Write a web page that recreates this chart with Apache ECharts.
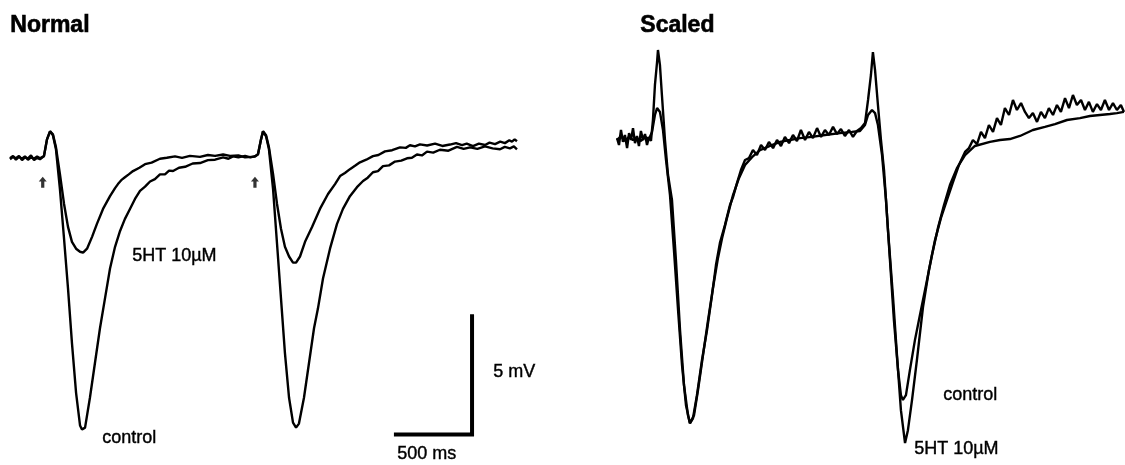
<!DOCTYPE html>
<html>
<head>
<meta charset="utf-8">
<style>
  html, body { margin: 0; padding: 0; background: #fff; }
  #chart { width: 1125px; height: 465px; }
</style>
<script src="https://cdn.jsdelivr.net/npm/echarts@6/dist/echarts.min.js"></script>
</head>
<body>
<div id="chart"></div>
<script>
// traces: [time ms, potential mV]
// Normal panel, control
const ctrlNormal = [
  [0,-0.08],[20,0.02],[39,-0.04],[59,0.06],[79,-0.12],[98,0.00],[118,-0.04],[138,0.08],[158,-0.12],[178,-0.02],
  [197,-0.08],[223,0.05],[243,0.76],[263,1.10],[282,0.93],[302,0.34],[328,-1.34],[355,-3.44],[381,-5.54],[407,-7.85],
  [434,-9.95],[460,-11.33],[473,-11.50],[493,-11.42],[525,-10.16],[558,-8.69],[591,-7.22],[624,-5.96],[657,-4.70],
  [690,-3.78],[723,-3.11],[755,-2.60],[788,-2.18],[821,-1.76],[854,-1.42],[887,-1.24],[920,-1.02],[952,-0.92],
  [985,-0.72],[1018,-0.72],[1045,-0.56],[1071,-0.58],[1110,-0.44],[1150,-0.40],[1200,-0.26],[1248,-0.24],
  [1300,-0.12],[1347,-0.10],[1400,0.00],[1435,-0.06],[1465,0.04],[1500,0.00],[1544,0.06],[1580,0.00],[1609,0.05],
  [1629,0.13],[1649,0.76],[1662,1.10],[1682,0.89],[1701,0.34],[1728,-1.34],[1754,-3.65],[1780,-5.96],[1806,-8.27],
  [1833,-10.16],[1859,-11.21],[1879,-11.42],[1898,-11.25],[1931,-10.16],[1964,-8.69],[1997,-7.22],[2023,-6.38],
  [2056,-5.12],[2102,-3.86],[2148,-2.81],[2187,-2.18],[2233,-1.64],[2279,-1.26],[2319,-1.00],[2350,-0.86],
  [2384,-0.63],[2417,-0.58],[2450,-0.37],[2490,-0.34],[2529,-0.18],[2570,-0.14],[2608,-0.04],[2640,-0.02],
  [2673,0.12],[2706,0.08],[2739,0.24],[2780,0.20],[2824,0.32],[2880,0.28],[2936,0.44],[2980,0.36],[3022,0.42],
  [3070,0.36],[3120,0.46],[3170,0.38],[3219,0.34],[3250,0.44],[3284,0.38],[3310,0.46],[3330,0.34]
];
// Normal panel, 5HT 10µM
const shtNormal = [
  [0,-0.04],[20,0.06],[39,-0.10],[59,0.02],[79,-0.06],[98,0.04],[118,-0.10],[138,0.00],[158,-0.06],[178,0.04],
  [197,-0.04],[223,0.05],[243,0.76],[263,1.10],[282,0.97],[302,0.42],[328,-0.71],[355,-1.97],[381,-2.94],[407,-3.57],
  [434,-3.86],[460,-3.99],[480,-4.03],[506,-3.86],[539,-3.36],[571,-2.81],[611,-2.18],[657,-1.64],[690,-1.30],
  [709,-1.13],[735,-0.94],[755,-0.84],[780,-0.72],[808,-0.58],[850,-0.44],[887,-0.29],[930,-0.22],[985,-0.06],
  [1030,-0.02],[1084,0.04],[1130,-0.02],[1182,0.06],[1248,0.02],[1300,0.10],[1347,0.06],[1400,0.12],[1445,0.06],
  [1500,0.08],[1544,0.00],[1609,0.03],[1629,0.13],[1649,0.76],[1662,1.10],[1682,0.93],[1701,0.42],[1728,-0.71],
  [1754,-1.97],[1780,-3.02],[1806,-3.78],[1833,-4.19],[1859,-4.45],[1879,-4.45],[1905,-4.19],[1938,-3.57],
  [1984,-2.94],[2036,-2.18],[2089,-1.55],[2135,-1.13],[2168,-0.79],[2200,-0.66],[2233,-0.50],[2266,-0.36],
  [2299,-0.21],[2340,-0.10],[2384,0.05],[2420,0.10],[2463,0.25],[2510,0.30],[2562,0.42],[2600,0.40],[2627,0.51],
  [2660,0.46],[2693,0.55],[2740,0.50],[2792,0.58],[2840,0.48],[2890,0.54],[2930,0.60],[2969,0.52],[3000,0.58],
  [3041,0.47],[3080,0.58],[3120,0.52],[3150,0.62],[3186,0.56],[3220,0.66],[3251,0.60],[3280,0.72],[3297,0.66],
  [3315,0.76],[3330,0.68]
];
// Scaled panel, 5HT 10µM scaled to control
const shtScaled = [
  [33,0.00],[46,-0.29],[59,0.34],[72,-0.16],[85,0.13],[99,-0.42],[112,0.21],[125,-0.08],[138,0.42],[151,-0.21],
  [164,0.09],[177,-0.33],[190,0.30],[204,-0.08],[217,0.17],[230,-0.29],[243,0.05],[256,-0.12],[269,0.76],[282,2.22],
  [296,3.19],[302,3.70],[315,3.06],[328,1.80],[348,-0.08],[368,-1.55],[394,-2.60],[420,-5.12],[447,-8.07],
  [473,-10.37],[499,-11.63],[512,-11.97],[532,-11.76],[558,-10.79],[591,-9.32],[624,-8.07],[657,-6.59],[683,-5.33],
  [709,-4.40],[742,-3.65],[775,-2.81],[795,-2.48],[821,-1.89],[847,-1.34],[874,-0.92],[900,-0.84],[926,-0.50],
  [952,-0.71],[979,-0.29],[1005,-0.50],[1031,-0.16],[1058,-0.42],[1084,-0.08],[1110,-0.33],[1136,0.05],[1163,-0.21],
  [1189,0.13],[1215,-0.12],[1241,0.34],[1268,-0.08],[1294,0.26],[1320,0.00],[1347,0.42],[1373,0.05],[1399,0.34],
  [1425,0.13],[1452,0.47],[1478,0.17],[1504,0.38],[1530,0.09],[1557,0.34],[1583,0.05],[1609,0.30],[1636,0.42],
  [1662,0.63],[1682,1.60],[1701,2.65],[1714,3.61],[1728,2.85],[1747,1.39],[1767,-0.08],[1787,-1.34],[1813,-3.86],
  [1846,-6.67],[1872,-9.11],[1898,-11.42],[1925,-12.80],[1944,-12.26],[1971,-10.99],[2003,-9.32],[2043,-7.09],
  [2082,-5.54],[2122,-4.28],[2161,-3.35],[2200,-2.60],[2240,-1.85],[2279,-1.13],[2319,-0.58],[2345,-0.42],
  [2371,-0.08],[2398,-0.25],[2424,0.26],[2450,0.00],[2476,0.55],[2503,0.26],[2529,0.84],[2555,0.55],[2581,1.26],
  [2608,0.97],[2634,1.60],[2660,1.18],[2687,1.47],[2713,1.10],[2739,0.84],[2765,1.05],[2792,0.68],[2818,1.10],
  [2844,0.84],[2870,1.26],[2897,0.97],[2923,1.39],[2949,1.10],[2976,1.68],[3002,1.26],[3028,1.81],[3054,1.39],
  [3081,1.60],[3107,1.18],[3133,1.52],[3159,1.10],[3186,1.43],[3212,1.18],[3238,1.60],[3265,1.18],[3291,1.47],
  [3317,1.18],[3343,1.39],[3363,1.10]
];
// Scaled panel, control
const ctrlScaled = [
  [33,-0.08],[59,0.09],[85,-0.12],[112,0.05],[138,-0.08],[164,0.00],[190,-0.12],[217,0.05],[243,-0.04],[263,0.26],
  [282,0.97],[296,1.26],[315,1.10],[335,0.34],[355,-0.92],[381,-2.39],[407,-4.70],[434,-7.22],[460,-9.53],
  [486,-11.21],[512,-11.97],[539,-11.63],[565,-10.58],[598,-9.11],[631,-7.64],[663,-6.30],[696,-5.04],[723,-4.20],
  [755,-3.36],[795,-2.39],[834,-1.68],[874,-1.13],[920,-0.80],[972,-0.50],[1038,-0.33],[1104,-0.16],[1169,-0.08],
  [1235,0.00],[1314,0.05],[1399,0.13],[1498,0.21],[1576,0.26],[1629,0.30],[1662,0.55],[1682,0.97],[1708,1.18],
  [1728,1.05],[1747,0.55],[1774,-0.71],[1800,-2.60],[1826,-5.12],[1852,-7.64],[1879,-9.74],[1898,-10.79],
  [1911,-10.99],[1931,-10.79],[1957,-9.74],[1990,-8.48],[2023,-7.43],[2063,-6.17],[2102,-4.91],[2141,-3.78],
  [2181,-2.81],[2220,-1.97],[2266,-1.26],[2319,-0.71],[2384,-0.33],[2483,-0.16],[2549,-0.08],[2614,-0.04],
  [2680,0.09],[2765,0.34],[2844,0.47],[2910,0.59],[2989,0.76],[3074,0.84],[3140,0.93],[3205,0.97],[3271,1.01],
  [3317,1.05],[3363,1.10]
];
// stimulus arrows (Normal panel)
const stimArrows = [[215,-1.05],[1609,-1.05]];
// scale bar: 500 ms x 5 mV
const scaleBar = [[2535,-11.71],[3035,-11.71],[3035,-6.71]];

const chart = echarts.init(document.getElementById('chart'));
const FONT = 'Liberation Sans, Arial, sans-serif';

function trace(data, idx) {
  return {
    type: 'line', data: data, xAxisIndex: idx, yAxisIndex: idx,
    showSymbol: false, smooth: false, silent: true,
    lineStyle: { color: '#000', width: 2.4 }
  };
}

// labels, slightly stroked to look like the printed figure
function txt(x, y, s, size, bold) {
  return {
    type: 'text', left: x, top: y,
    style: {
      text: s, fill: '#000', stroke: '#000', lineWidth: bold ? 0.6 : 0.4,
      font: (bold ? 'bold ' : '') + size + 'px ' + FONT
    }
  };
}

chart.setOption({
  animation: false,
  backgroundColor: '#fff',
  grid: [
    { left: 10, top: 39, width: 510, height: 428.8 },
    { left: 612, top: 19, width: 513, height: 428.8 }
  ],
  xAxis: [
    { type: 'value', gridIndex: 0, min: 0, max: 3350, show: false },
    { type: 'value', gridIndex: 1, min: 0, max: 3370, show: false }
  ],
  yAxis: [
    { type: 'value', gridIndex: 0, min: -13, max: 5, show: false },
    { type: 'value', gridIndex: 1, min: -13, max: 5, show: false }
  ],
  series: [
    trace(ctrlNormal, 0),
    trace(shtNormal, 0),
    trace(shtScaled, 1),
    trace(ctrlScaled, 1),
    {
      type: 'line', data: scaleBar, xAxisIndex: 0, yAxisIndex: 0,
      showSymbol: false, silent: true,
      lineStyle: { color: '#000', width: 4, cap: 'square', join: 'miter' }
    },
    {
      type: 'scatter', data: stimArrows, xAxisIndex: 0, yAxisIndex: 0, silent: true,
      symbol: 'path://M5,0 L10,6 L7,6 L7,14 L3,14 L3,6 L0,6 Z',
      symbolSize: [8, 11], itemStyle: { color: '#000' }
    }
  ],
  graphic: [
    txt(10, 14, 'Normal', 23, true),
    txt(640, 14, 'Scaled', 23, true),
    txt(132, 247, '5HT 10\u00b5M', 18, false),
    txt(102, 429, 'control', 18, false),
    txt(943, 386, 'control', 18, false),
    txt(914, 440, '5HT 10\u00b5M', 18, false),
    txt(493, 363, '5 mV', 18, false),
    txt(397, 445, '500 ms', 18, false)
  ]
});

window.addEventListener('resize', () => chart.resize());
</script>
</body>
</html>
